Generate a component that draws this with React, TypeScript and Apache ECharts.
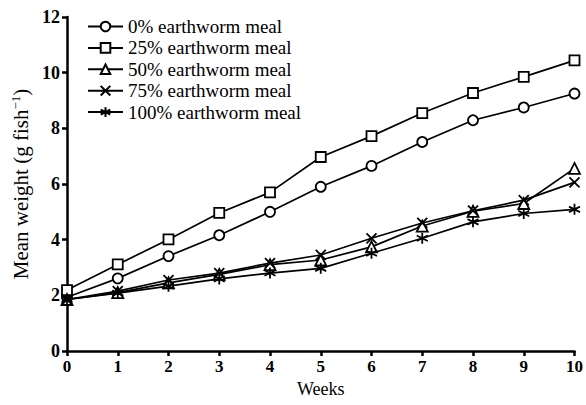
import React, { useEffect, useRef } from "react";
import * as echarts from "echarts";

const weeks = [0, 1, 2, 3, 4, 5, 6, 7, 8, 9, 10];
const seriesNames = [
  "0% earthworm meal",
  "25% earthworm meal",
  "50% earthworm meal",
  "75% earthworm meal",
  "100% earthworm meal",
];
const meal0 = [1.93, 2.61, 3.41, 4.16, 5.0, 5.9, 6.65, 7.51, 8.29, 8.75, 9.25];
const meal25 = [2.19, 3.11, 4.01, 4.96, 5.7, 6.97, 7.72, 8.55, 9.27, 9.85, 10.44];
const meal50 = [1.85, 2.1, 2.45, 2.75, 3.1, 3.27, 3.74, 4.49, 5.02, 5.3, 6.56];
const meal75 = [1.85, 2.15, 2.55, 2.8, 3.16, 3.45, 4.05, 4.6, 5.04, 5.42, 6.06];
const meal100 = [1.85, 2.08, 2.33, 2.59, 2.8, 2.97, 3.51, 4.05, 4.64, 4.94, 5.09];
const yTicks = [0, 2, 4, 6, 8, 10, 12];

const crossPath = "path://M0 0L10 10M10 0L0 10";
const starPath = "path://M5 0L5 10M0.67 2.5L9.33 7.5M0.67 7.5L9.33 2.5";

export default function App() {
  const ref = useRef<HTMLDivElement>(null);
  useEffect(() => {
    if (!ref.current) return;
    const chart = echarts.init(ref.current, undefined, { renderer: "svg" });
    const font = "Liberation Serif";
    const mk = (name: string, data: number[], symbol: string, open: boolean, size: number) => ({
      name,
      type: "line",
      data: weeks.map((w, i) => [w, data[i]]),
      symbol,
      symbolSize: size,
      lineStyle: { color: "#000", width: 1.7 },
      itemStyle: {
        color: open ? "#fff" : "#000",
        borderColor: "#000",
        borderWidth: 1.8,
      },
      z: 2,
    });
    chart.setOption({
      animation: false,
      textStyle: { fontFamily: font, color: "#000" },
      grid: { left: 67, right: 8, top: 17, bottom: 54 },
      legend: {
        left: 82,
        top: 12,
        orient: "vertical",
        itemWidth: 35,
        itemHeight: 12,
        itemGap: 2.4,
        textStyle: { fontFamily: font, fontSize: 19, lineHeight: 19, color: "#000" },
        data: seriesNames,
      },
      xAxis: {
        type: "value",
        min: 0,
        max: 10,
        interval: 1,
        name: "Weeks",
        nameLocation: "middle",
        nameGap: 28,
        nameTextStyle: { fontFamily: font, fontSize: 18, color: "#000" },
        axisLine: { lineStyle: { color: "#000", width: 2.5 } },
        axisTick: { inside: false, length: 5, lineStyle: { color: "#000", width: 2.5 } },
        axisLabel: { fontFamily: font, fontSize: 17, fontWeight: "bold", color: "#000", margin: 7 },
        splitLine: { show: false },
      },
      yAxis: {
        type: "value",
        min: yTicks[0],
        max: yTicks[yTicks.length - 1],
        interval: 2,
        name: "Mean weight (g fish{sup|−1})",
        nameLocation: "middle",
        nameGap: 29,
        nameTextStyle: {
          fontFamily: font,
          fontSize: 21,
          color: "#000",
          rich: { sup: { fontFamily: font, fontSize: 13, color: "#000", verticalAlign: "top", padding: [0, 0, 10, 0] } },
        },
        axisLine: { show: true, lineStyle: { color: "#000", width: 2.5 } },
        axisTick: { show: true, inside: false, length: 5, lineStyle: { color: "#000", width: 2.5 } },
        axisLabel: { fontFamily: font, fontSize: 18, fontWeight: "bold", color: "#000", margin: 7 },
        splitLine: { show: false },
      },
      series: [
        mk(seriesNames[0], meal0, "circle", true, 10),
        mk(seriesNames[1], meal25, "rect", true, 10),
        mk(seriesNames[2], meal50, "triangle", true, 11),
        mk(seriesNames[3], meal75, crossPath, false, 10),
        mk(seriesNames[4], meal100, starPath, false, 11),
      ],
    });
    return () => chart.dispose();
  }, []);
  return <div ref={ref} style={{ width: 586, height: 405, position: "absolute", left: 0, top: 0, background: "#fff" }} />;
}
